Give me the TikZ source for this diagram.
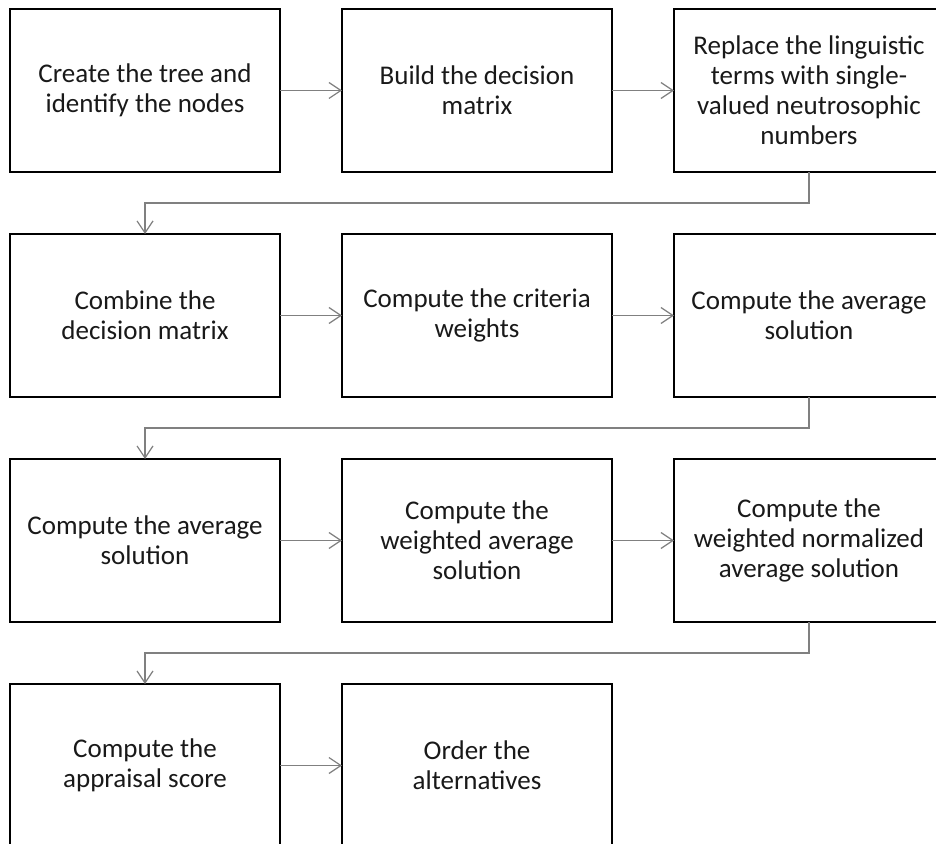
\documentclass[tikz,border=0pt]{standalone}
\usepackage{fontspec}
\setmainfont{Carlito}
\usetikzlibrary{arrows.meta,positioning}

\begin{document}
\begin{tikzpicture}[font=\fontsize{13.5pt}{15pt}\selectfont, sharp corners,
     stp/.style={draw=black, line width=1pt, minimum width=135pt, minimum height=81.5pt, inner sep=0pt, outer sep=0pt, align=center, text=black!90},
     conn/.style={draw=black!50, line width=0.6pt, -{Straight Barb[length=6pt,width=8pt]}},
     node distance=31pt and 31pt]
   \useasboundingbox (0,0) rectangle (468pt,-422pt);
   % row 1
   \node[stp, anchor=north west] (b1) at (5pt,-4.5pt) {Create the tree and\\identify the nodes};
   \node[stp, right=of b1] (b2) {Build the decision\\matrix};
   \node[stp, right=of b2] (b3) {Replace the linguistic\\terms with single-\\valued neutrosophic\\numbers};
   % row 2
   \node[stp, below=of b1] (b4) {Combine the\\decision matrix};
   \node[stp, right=of b4] (b5) {Compute the criteria\\weights};
   \node[stp, right=of b5] (b6) {Compute the average\\solution};
   % row 3
   \node[stp, below=of b4] (b7) {Compute the average\\solution};
   \node[stp, right=of b7] (b8) {Compute the\\weighted average\\solution};
   \node[stp, right=of b8] (b9) {Compute the\\weighted normalized\\average solution};
   % row 4
   \node[stp, below=of b7] (b10) {Compute the\\appraisal score};
   \node[stp, right=of b10] (b11) {Order the\\alternatives};

   \draw[conn] (b1) -- (b2);
   \draw[conn] (b2) -- (b3);
   \draw[conn] (b3.south) -- ++(0,-15.5pt) -| (b4.north);
   \draw[conn] (b4) -- (b5);
   \draw[conn] (b5) -- (b6);
   \draw[conn] (b6.south) -- ++(0,-15.5pt) -| (b7.north);
   \draw[conn] (b7) -- (b8);
   \draw[conn] (b8) -- (b9);
   \draw[conn] (b9.south) -- ++(0,-15.5pt) -| (b10.north);
   \draw[conn] (b10) -- (b11);
  \end{tikzpicture}
\end{document}
